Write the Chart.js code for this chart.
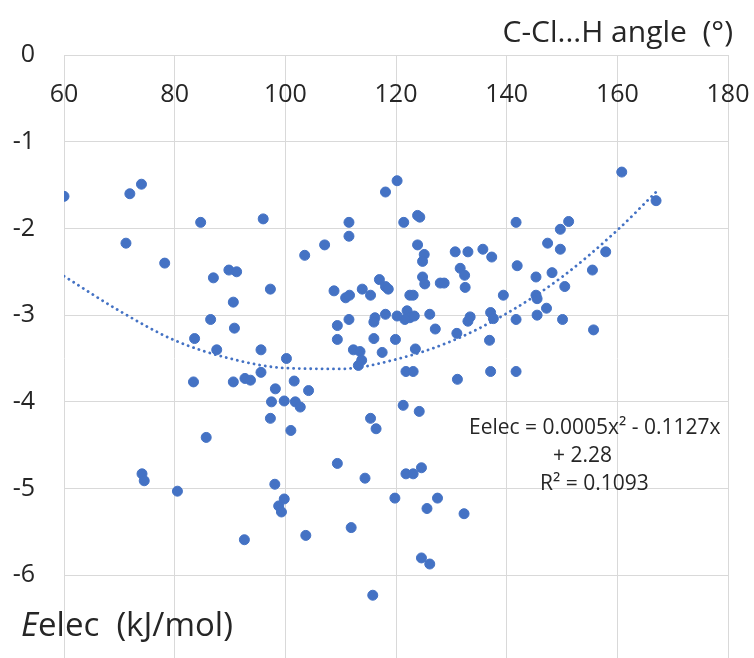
<!DOCTYPE html>
<html>
<head>
<meta charset="utf-8">
<title>Eelec vs C-Cl...H angle</title>
<script src="https://cdn.jsdelivr.net/npm/chart.js@4.4.1/dist/chart.umd.min.js"></script>
<style>
    html, body { margin: 0; padding: 0; background: #ffffff; overflow: hidden; }
    #chart { display: block; }
</style>
</head>
<body>
<canvas id="chart" width="754" height="706"></canvas>
<script>
"use strict"


// C-Cl...H angle (deg) and electrostatic energy (kJ/mol)
const angles =
[
    60.0, 71.9, 74.0, 84.7, 96.0, 111.5, 111.5, 71.2, 78.2, 107.1,
    103.5, 87.0, 89.8, 91.2, 97.3, 90.6, 108.8, 110.9, 111.6, 86.5,
    90.8, 111.5, 109.4, 83.6, 109.4, 87.6, 95.6, 100.2,

    83.4, 90.6, 92.7, 93.7, 95.6, 98.2, 101.6, 104.2, 97.5, 99.8,
    101.8, 102.7, 97.3, 101.0, 85.7, 109.4, 74.1, 74.5, 80.5, 98.1,
    99.8, 98.8, 99.3, 92.6, 103.7, 111.9,

    118.1, 120.2, 121.4, 123.9, 124.3, 141.7, 151.2, 149.7, 160.8, 167.0,
    147.4, 149.7, 157.9, 123.9, 125.1, 124.8, 130.7, 133.0, 135.7, 137.3,
    141.9, 131.6, 132.4, 132.5, 124.8, 125.2, 128.0, 128.7, 117.0, 118.1,
    118.6, 113.9, 115.4, 122.5, 123.1, 145.3, 148.2, 155.5, 150.5, 139.4,
    145.3, 145.5, 147.2, 145.5, 150.1, 155.7, 141.7, 137.1, 137.6, 133.4,
    133.0, 131.0, 136.9, 127.1, 126.1, 122.0, 122.5, 123.3, 121.6, 120.2,
    118.1, 116.2, 116.0, 116.0, 119.9, 123.5, 117.5, 112.3, 113.5, 113.2,
    113.8,

    121.8, 123.1, 131.1, 137.1, 141.7, 121.3, 124.2, 115.4, 116.4, 114.4,
    121.8, 123.1, 124.6, 119.8, 127.5, 125.6, 132.3, 124.6, 126.1, 115.8
];

const eelec =
[
    -1.63, -1.60, -1.49, -1.93, -1.89, -1.93, -2.09, -2.17, -2.40, -2.19,
    -2.31, -2.57, -2.48, -2.50, -2.70, -2.85, -2.72, -2.80, -2.77, -3.05,
    -3.15, -3.05, -3.12, -3.27, -3.28, -3.40, -3.40, -3.50,

    -3.77, -3.77, -3.73, -3.75, -3.66, -3.85, -3.76, -3.87, -4.00, -3.99,
    -4.00, -4.06, -4.19, -4.33, -4.41, -4.71, -4.83, -4.91, -5.03, -4.95,
    -5.12, -5.20, -5.27, -5.59, -5.54, -5.45,

    -1.58, -1.45, -1.93, -1.85, -1.87, -1.93, -1.92, -2.01, -1.35, -1.68,
    -2.17, -2.24, -2.27, -2.19, -2.30, -2.38, -2.27, -2.27, -2.24, -2.33,
    -2.43, -2.46, -2.54, -2.68, -2.56, -2.64, -2.63, -2.63, -2.59, -2.67,
    -2.70, -2.70, -2.77, -2.77, -2.77, -2.56, -2.51, -2.48, -2.67, -2.77,
    -2.77, -2.81, -2.92, -3.00, -3.05, -3.17, -3.05, -2.97, -3.04, -3.02,
    -3.07, -3.21, -3.29, -3.16, -2.99, -2.95, -3.03, -3.01, -3.05, -3.01,
    -2.99, -3.03, -3.08, -3.27, -3.28, -3.39, -3.43, -3.40, -3.42, -3.58,
    -3.52,

    -3.65, -3.65, -3.74, -3.65, -3.65, -4.04, -4.11, -4.19, -4.31, -4.88,
    -4.83, -4.83, -4.76, -5.11, -5.11, -5.23, -5.29, -5.80, -5.87, -6.23
];

// dotted polynomial trendline
const trendAngles = [60, 70, 80, 90, 100, 110, 120, 130, 140, 150, 160, 167];
const trendEelec = [-2.55, -2.95, -3.29, -3.50, -3.61, -3.62, -3.51, -3.30, -2.98, -2.56, -2.02, -1.58];

const xTitle = 'C-Cl...H angle  (\u00B0)';
const yTitleItalic = 'E';
const yTitleRest = 'elec  (kJ/mol)';
const equationLines = ['Eelec = 0.0005x\u00B2 - 0.1127x', '+ 2.28', 'R\u00B2 = 0.1093'];

const blue = '#4472C4';
const textColour = '#262626';
const gridColour = '#d9d9d9';


const chartText =
{
    id: 'chartText',
    afterDraw(chart)
    {
        const ctx = chart.ctx;
        ctx.save();
        ctx.fillStyle = textColour;
        ctx.textBaseline = 'alphabetic';

        ctx.font = '30px "Open Sans"';
        ctx.textAlign = 'right';
        ctx.fillText(xTitle, 733, 42);

        ctx.textAlign = 'left';
        ctx.font = 'italic 33px "Open Sans"';
        ctx.fillText(yTitleItalic, 21, 636);
        const w = ctx.measureText(yTitleItalic).width;
        ctx.font = '33px "Open Sans"';
        ctx.fillText(yTitleRest, 21 + w, 636);

        ctx.font = '21px "Open Sans"';
        ctx.fillText(equationLines[0], 469, 434);
        ctx.fillText(equationLines[1], 553, 462);
        ctx.fillText(equationLines[2], 540, 490);

        ctx.restore();
    }
};


function scatter()
{
    const points = angles.map((a, i) => ({ x: a, y: eelec[i] }));
    const trend = trendAngles.map((a, i) => ({ x: a, y: trendEelec[i] }));

    const config =
    {
        type: 'scatter',
        data:
        {
            datasets:
            [{
                label: 'trend',
                type: 'line',
                data: trend,
                borderColor: blue,
                borderWidth: 2.8,
                borderDash: [0.1, 5.6],
                borderCapStyle: 'round',
                cubicInterpolationMode: 'monotone',
                pointRadius: 0,
                fill: false,
                order: 0
            },
            {
                label: 'Eelec',
                data: points,
                backgroundColor: blue,
                borderColor: blue,
                pointRadius: 5,
                pointHoverRadius: 5,
                order: 1
            }]
        },
        options:
        {
            responsive: false,
            animation: false,
            layout: { padding: { top: 55, right: 26, bottom: 18, left: 0 } },
            plugins:
            {
                legend: { display: false },
                tooltip: { enabled: false }
            },
            scales:
            {
                x:
                {
                    type: 'linear',
                    position: { y: 0 },
                    min: 60,
                    max: 180,
                    // labels sit under the top line, so they need no side room
                    afterFit: (s) => { s.paddingLeft = 0; s.paddingRight = 0; },
                    ticks:
                    {
                        stepSize: 20,
                        padding: 25,
                        color: textColour,
                        font: { family: 'Open Sans', size: 25 }
                    },
                    grid: { color: gridColour, drawTicks: false },
                    border: { display: false }
                },
                y:
                {
                    type: 'linear',
                    min: -7,
                    max: 0,
                    afterFit: (s) => { s.width = 64; },
                    ticks:
                    {
                        stepSize: 1,
                        padding: 29,
                        color: textColour,
                        font: { family: 'Open Sans', size: 25 },
                        callback: (v) => v === -7 ? '' : v
                    },
                    grid: { color: gridColour, drawTicks: false },
                    border: { display: false }
                }
            }
        },
        plugins: [chartText]
    };

    new Chart(document.getElementById('chart').getContext('2d'), config);
}


window.onload = () =>
{
    scatter();
}
</script>
</body>
</html>
